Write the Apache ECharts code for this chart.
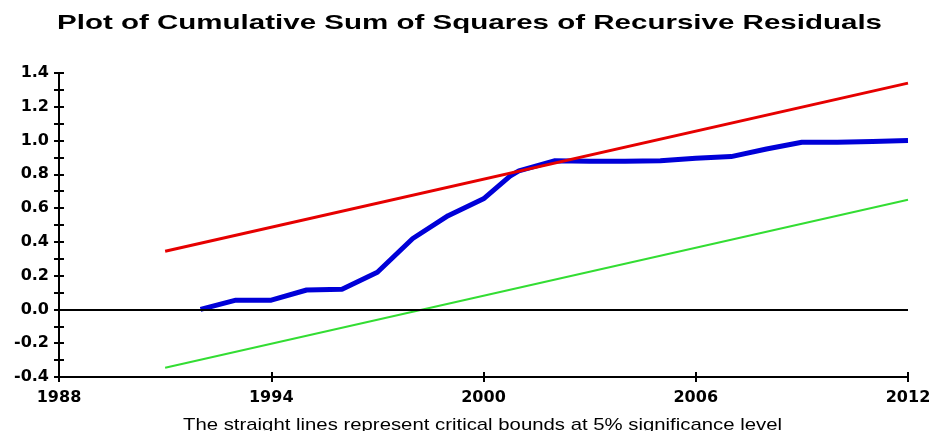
<!DOCTYPE html>
<html>
<head>
<meta charset="utf-8">
<script src="https://cdn.jsdelivr.net/npm/echarts@6/dist/echarts.min.js"></script>
<style>html,body{margin:0;padding:0;background:#fff;}#c{width:934px;height:431px;}</style>
</head>
<body>
<div id="c"></div>
<script>
const titleText = 'Plot of Cumulative Sum of Squares of Recursive Residuals';
const captionText = 'The straight lines represent critical bounds at 5% significance level';
const years = [1992,1993,1994,1995,1996,1997,1998,1999,2000,2000.75,2001,2002,2003,2004,2005,2006,2007,2008,2009,2010,2011,2012];
const cusumsq = [0.0,0.055,0.055,0.115,0.12,0.22,0.42,0.555,0.655,0.79,0.82,0.88,0.877,0.878,0.88,0.895,0.905,0.95,0.99,0.99,0.995,1.0];
const boundYears = [1991, 2012];
const upperBound = [0.345, 1.34];
const lowerBound = [-0.345, 0.65];
const xTicks = [1988, 1994, 2000, 2006, 2012];

const titleFont = 'bold 21px "Liberation Sans", Arial, sans-serif';
const captionFont = '17px "Liberation Sans", Arial, sans-serif';
const mctx = document.createElement('canvas').getContext('2d');
function widthOf(font, text) { mctx.font = font; return mctx.measureText(text).width; }
const titleScale = 825 / widthOf(titleFont, titleText);
const captionScale = 599 / widthOf(captionFont, captionText);

const chart = echarts.init(document.getElementById('c'));
const labelFont = {fontFamily: 'DejaVu Sans', fontWeight: 'bold', fontSize: 16, color: '#000'};
const axisLine = {show: true, onZero: false, lineStyle: {color: '#000', width: 2}};
const yBase = {type: 'value', min: -0.4, max: 1.4, interval: 0.1, position: 'left', splitLine: {show: false}, axisLine: axisLine};
const xBase = {type: 'value', min: 1988, max: 2012, interval: 6, position: 'bottom', splitLine: {show: false}, axisLine: axisLine};
chart.setOption({
  animation: false,
  backgroundColor: '#fff',
  graphic: [
    {type: 'text', x: 469.5, y: 23, scaleX: titleScale, originX: 0, originY: 0,
      style: {text: titleText, font: titleFont, fill: '#000', align: 'center', verticalAlign: 'middle'}},
    {type: 'text', x: 482.5, y: 425.5, scaleX: captionScale, originX: 0, originY: 0,
      style: {text: captionText, font: captionFont, fill: '#000', align: 'center', verticalAlign: 'middle'}}
  ],
  grid: {left: 59, right: 26, top: 73, bottom: 54},
  xAxis: [
    Object.assign({}, xBase, {axisTick: {show: true, length: 5, lineStyle: {color: '#000', width: 2}},
      axisLabel: Object.assign({margin: 13, formatter: v => xTicks.includes(v) ? String(v) : ''}, labelFont)}),
    Object.assign({}, xBase, {axisTick: {show: true, inside: true, length: 5, lineStyle: {color: '#000', width: 2}}, axisLabel: {show: false}})
  ],
  yAxis: [
    Object.assign({}, yBase, {axisTick: {show: true, length: 5, lineStyle: {color: '#000', width: 2}},
      axisLabel: Object.assign({margin: 10, formatter: v => (Math.round(v * 10) % 2 === 0) ? v.toFixed(1) : ''}, labelFont)}),
    Object.assign({}, yBase, {axisTick: {show: true, inside: true, length: 5, lineStyle: {color: '#000', width: 2}}, axisLabel: {show: false}})
  ],
  series: [
    {type: 'line', name: 'Upper', data: boundYears.map((y, i) => [y, upperBound[i]]), showSymbol: false, lineStyle: {color: '#e60000', width: 3}, z: 3},
    {type: 'line', name: 'Lower', data: boundYears.map((y, i) => [y, lowerBound[i]]), showSymbol: false, lineStyle: {color: '#33dd33', width: 2}, z: 3},
    {type: 'line', name: 'CUSUMSQ', data: years.map((y, i) => [y, cusumsq[i]]), showSymbol: false, lineStyle: {color: '#0000d8', width: 5}, z: 2,
      markLine: {silent: true, symbol: 'none', label: {show: false}, lineStyle: {color: '#000', width: 2, type: 'solid'}, data: [{yAxis: 0}]}}
  ]
});
</script>
</body>
</html>
